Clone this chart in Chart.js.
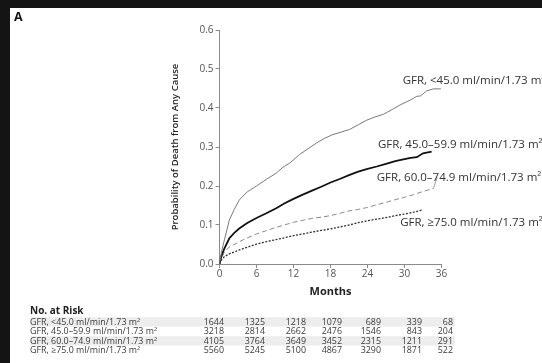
<!DOCTYPE html>
<html>
<head>
<meta charset="utf-8">
<script src="https://cdn.jsdelivr.net/npm/chart.js@4.4.1/dist/chart.umd.min.js"></script>
<style>
  html, body { margin: 0; padding: 0; background: #141414; width: 542px; height: 363px; overflow: hidden; }
  #wrap { position: absolute; left: 10px; top: 8px; width: 532px; height: 355px; background: #ffffff; }
  canvas { display: block; }
</style>
</head>
<body>
<div id="wrap"><canvas id="c" width="532" height="355"></canvas></div>
<script>
// ---- data ----
const seriesNames = [
  "GFR, <45.0 ml/min/1.73 m\u00B2",
  "GFR, 45.0\u201359.9 ml/min/1.73 m\u00B2",
  "GFR, 60.0\u201374.9 ml/min/1.73 m\u00B2",
  "GFR, \u226575.0 ml/min/1.73 m\u00B2"
];
const xTicks = [0, 6, 12, 18, 24, 30, 36];
const yTicks = [0.0, 0.1, 0.2, 0.3, 0.4, 0.5, 0.6];

const months1 = [0, 0.3, 0.8, 1.6, 2.4, 3.2, 4.5, 6, 7.6, 9.2, 10.3, 11.4, 13, 14.5, 15.7, 17, 18.4, 19.7, 21.1, 22.5, 23.9, 25.2, 26.6, 28, 29.3, 30.9, 32, 32.6, 33.6, 34.7, 35.9];
const prob1   = [0, 0.03, 0.062, 0.113, 0.14, 0.164, 0.185, 0.2, 0.217, 0.233, 0.248, 0.259, 0.281, 0.297, 0.31, 0.322, 0.332, 0.338, 0.345, 0.357, 0.369, 0.377, 0.384, 0.396, 0.408, 0.42, 0.43, 0.431, 0.444, 0.449, 0.449];

const months2 = [0, 0.3, 0.8, 1.6, 2.4, 3.2, 4.5, 6, 7.6, 9.2, 10.5, 12, 13.5, 15, 16.5, 18, 19.5, 21, 22.5, 24, 25.5, 27, 28.5, 30, 31, 32, 33, 34.4];
const prob2   = [0, 0.02, 0.04, 0.066, 0.08, 0.091, 0.105, 0.118, 0.13, 0.143, 0.155, 0.167, 0.178, 0.188, 0.198, 0.209, 0.218, 0.228, 0.237, 0.244, 0.25, 0.257, 0.264, 0.269, 0.272, 0.274, 0.284, 0.288];

const months3 = [0, 0.3, 0.8, 1.6, 2.4, 3.2, 4.5, 6, 7.5, 9, 10.5, 12, 13.5, 15, 16.5, 18, 19.5, 21, 22.5, 24, 25.5, 27, 28.5, 30, 31.5, 33, 34.7];
const prob3   = [0, 0.015, 0.03, 0.044, 0.05, 0.057, 0.067, 0.077, 0.085, 0.093, 0.1, 0.107, 0.112, 0.117, 0.12, 0.124, 0.13, 0.136, 0.14, 0.145, 0.152, 0.158, 0.165, 0.171, 0.178, 0.186, 0.194];

const months4 = [0, 0.3, 0.8, 1.6, 2.4, 3.2, 4.5, 6, 7.5, 9, 10.5, 12, 13.5, 15, 16.5, 18, 19.5, 21, 22.5, 24, 25.5, 27, 28.5, 30, 31.5, 33];
const prob4   = [0, 0.01, 0.019, 0.026, 0.031, 0.036, 0.043, 0.051, 0.057, 0.062, 0.067, 0.073, 0.077, 0.082, 0.086, 0.09, 0.095, 0.1, 0.106, 0.111, 0.115, 0.119, 0.124, 0.128, 0.133, 0.139];

// leader line from end of series 3 to its label
const leaderMonths = [34.7, 35.3];
const leaderProb   = [0.194, 0.222];

// No. at risk
const atRisk1 = [1644, 1325, 1218, 1079, 689, 339, 68];
const atRisk2 = [3218, 2814, 2662, 2476, 1546, 843, 204];
const atRisk3 = [4105, 3764, 3649, 3452, 2315, 1211, 291];
const atRisk4 = [5560, 5245, 5100, 4867, 3290, 1871, 522];

// ---- helpers ----
const pts = (xs, ys) => xs.map((x, i) => ({ x: x, y: ys[i] }));
const FONT = "'Open Sans', 'Noto Sans', sans-serif";

// label anchor positions in data units (month, probability)
const labelAnchors = [[29.7, 0.47], [25.7, 0.305], [25.5, 0.221], [29.3, 0.107]];

// layout constants (canvas px) for the risk table
const tableColRight = [214, 255, 296, 332, 371, 412, 443];
const tableRowY = [314, 323.5, 333, 342.5];

const annot = {
  id: 'annot',
  beforeDatasetsDraw(chart) {
    const ctx = chart.ctx;
    ctx.save();
    ctx.fillStyle = '#ededed';
    [0, 2].forEach(r => ctx.fillRect(20, tableRowY[r] - 4.8, 425, 9.4));
    ctx.restore();
  },
  afterDraw(chart) {
    const ctx = chart.ctx;
    const xs = chart.scales.x, ys = chart.scales.y;
    ctx.save();
    // panel letter
    ctx.fillStyle = '#111';
    ctx.font = "bold 12.5px " + FONT;
    ctx.textBaseline = 'middle';
    ctx.textAlign = 'left';
    ctx.fillText('A', 4, 9);

    // y title
    ctx.save();
    ctx.translate(165, (ys.top + ys.bottom) / 2);
    ctx.rotate(-Math.PI / 2);
    ctx.textAlign = 'center';
    ctx.font = "600 9.5px " + FONT;
    ctx.fillStyle = '#222';
    ctx.fillText('Probability of Death from Any Cause', 0, 0);
    ctx.restore();

    // x title
    ctx.textAlign = 'center';
    ctx.font = "bold 11px " + FONT;
    ctx.fillStyle = '#222';
    ctx.fillText('Months', xs.getPixelForValue(18), 284);

    // curve labels
    ctx.textAlign = 'left';
    ctx.font = "11.5px " + FONT;
    ctx.fillStyle = '#333';
    seriesNames.forEach((n, i) => {
      ctx.fillText(n, xs.getPixelForValue(labelAnchors[i][0]), ys.getPixelForValue(labelAnchors[i][1]));
    });

    // risk table
    ctx.font = "bold 10px " + FONT;
    ctx.fillStyle = '#222';
    ctx.fillText('No. at Risk', 20, 303.5);
    ctx.font = "8.9px " + FONT;
    ctx.fillStyle = '#3a3a3a';
    const rows = [atRisk1, atRisk2, atRisk3, atRisk4];
    rows.forEach((row, r) => {
      ctx.textAlign = 'left';
      ctx.fillText(seriesNames[r], 20, tableRowY[r]);
      ctx.textAlign = 'right';
      row.forEach((v, c) => ctx.fillText(String(v), tableColRight[c], tableRowY[r]));
    });
    ctx.restore();
  }
};

new Chart(document.getElementById('c'), {
  type: 'line',
  data: {
    datasets: [
      { label: seriesNames[0], data: pts(months1, prob1), borderColor: '#7a7a7a', borderWidth: 1 },
      { label: seriesNames[1], data: pts(months2, prob2), borderColor: '#111111', borderWidth: 1.8 },
      { label: seriesNames[2], data: pts(months3, prob3), borderColor: '#8a8a8a', borderWidth: 1, borderDash: [5, 3] },
      { label: seriesNames[3], data: pts(months4, prob4), borderColor: '#333333', borderWidth: 1.3, borderDash: [2, 1.5] },
      { label: 'leader', data: pts(leaderMonths, leaderProb), borderColor: '#888888', borderWidth: 0.8 }
    ]
  },
  options: {
    responsive: false,
    animation: false,
    devicePixelRatio: 1,
    elements: { point: { radius: 0 }, line: { tension: 0, fill: false } },
    layout: { padding: { left: 0, top: 22, right: 100.5, bottom: 0 } },
    plugins: { legend: { display: false }, tooltip: { enabled: false }, title: { display: false } },
    scales: {
      x: {
        type: 'linear', min: 0, max: 36,
        afterBuildTicks: s => { s.ticks = xTicks.map(v => ({ value: v })); },
        afterFit: s => { s.height = 99; },
        ticks: { color: '#555', font: { family: FONT, size: 10 }, padding: 0, maxRotation: 0 },
        grid: { display: true, drawOnChartArea: false, drawTicks: true, tickLength: 4, color: '#8a8a8a' },
        border: { color: '#8a8a8a', width: 1 }
      },
      y: {
        type: 'linear', min: 0, max: 0.6,
        afterBuildTicks: s => { s.ticks = yTicks.map(v => ({ value: v })); },
        afterFit: s => { s.width = 209.5; },
        ticks: { color: '#555', font: { family: FONT, size: 10 }, padding: 2, callback: v => v.toFixed(1) },
        grid: { display: true, drawOnChartArea: false, drawTicks: true, tickLength: 4, color: '#8a8a8a' },
        border: { color: '#8a8a8a', width: 1 }
      }
    }
  },
  plugins: [annot]
});
</script>
</body>
</html>
